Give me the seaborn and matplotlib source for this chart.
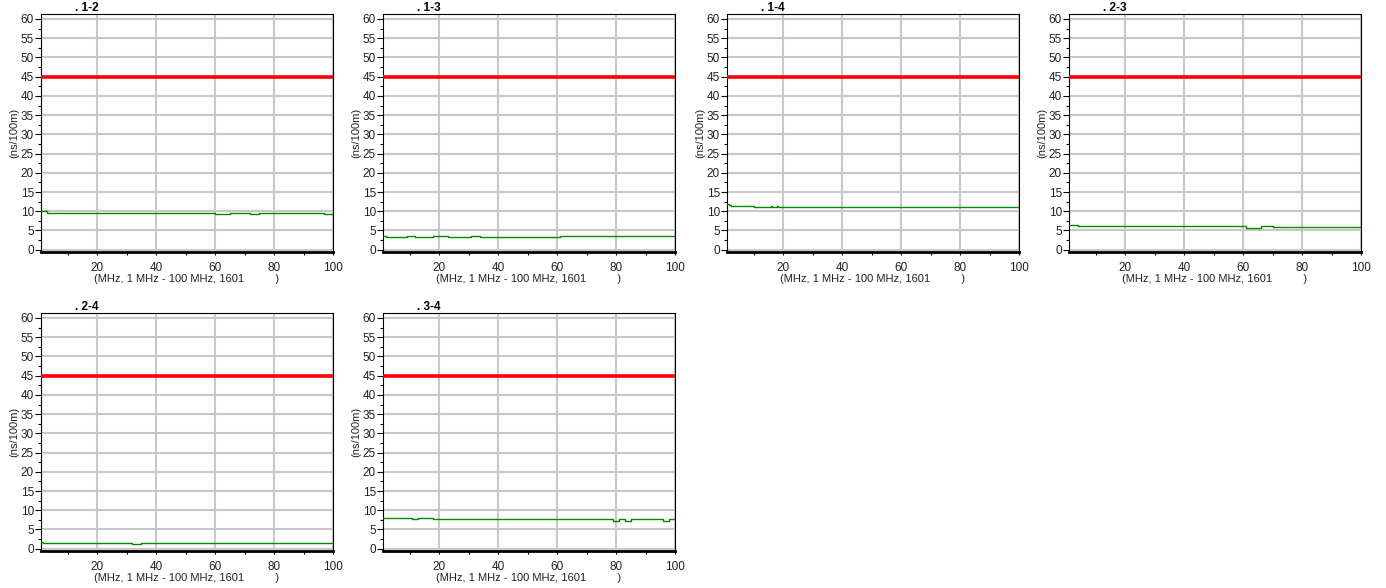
import matplotlib
matplotlib.use("Agg")
import matplotlib.pyplot as plt
import seaborn as sns
import pandas as pd

sns.set_style("white")
plt.rcParams["font.family"] = ["Liberation Sans", "DejaVu Sans"]
plt.rcParams["text.color"] = "black"
plt.rcParams["axes.labelcolor"] = "black"

# pair names and delay skew curves (breakpoints: MHz, ns/100m, drawn as steps)
pairs = [". 1-2", ". 1-3", ". 1-4", ". 2-3", ". 2-4", ". 3-4"]
freq_12 = [1, 3, 60, 65, 72, 75, 97, 100]
skew_12 = [10.0, 9.6, 9.2, 9.6, 9.2, 9.6, 9.2, 9.2]
freq_13 = [1, 2, 4, 9, 12, 18, 23, 31, 34, 41, 46, 51, 57, 61, 100]
skew_13 = [3.6, 3.4, 3.2, 3.5, 3.2, 3.5, 3.2, 3.5, 3.2, 3.4, 3.2, 3.4, 3.2, 3.5, 3.5]
freq_14 = [1, 1.8, 2.5, 10, 16, 16.3, 18, 18.3, 100]
skew_14 = [11.8, 11.5, 11.3, 11.0, 11.3, 11.0, 11.3, 11.0, 11.0]
freq_23 = [1, 4, 61, 66, 70, 100]
skew_23 = [6.4, 6.1, 5.7, 6.1, 5.8, 5.8]
freq_24 = [1, 1.6, 32, 35, 100]
skew_24 = [1.8, 1.5, 1.3, 1.5, 1.5]
freq_34 = [1, 2, 11, 13, 18, 79, 81, 83, 85, 96, 98, 100]
skew_34 = [8.1, 7.9, 7.6, 7.9, 7.6, 7.3, 7.6, 7.3, 7.6, 7.3, 7.6, 7.6]
limit = 45

curves = [(freq_12, skew_12), (freq_13, skew_13), (freq_14, skew_14),
          (freq_23, skew_23), (freq_24, skew_24), (freq_34, skew_34)]

W, H = 1386, 588
fig = plt.figure(figsize=(W / 100, H / 100), dpi=100)

lefts = [41, 383, 727, 1069]
aw = 292
rows = [(14, 252), (313, 551)]

for i, (name, (f, s)) in enumerate(zip(pairs, curves)):
    r, c = divmod(i, 4)
    top, bot = rows[r]
    ax = fig.add_axes([lefts[c] / W, 1 - bot / H, aw / W, (bot - top) / H])
    df = pd.DataFrame({"freq": f, "skew": s})
    ax.axhline(limit, color="#ff0000", lw=2.6, zorder=3)
    ax.step(df["freq"], df["skew"], where="post", color="#008a00", lw=1.0, zorder=4)
    ax.set_xlim(1, 100)
    ax.set_ylim(-0.6, 61.3)
    ax.set_xticks([20, 40, 60, 80, 100])
    ax.set_xticks(range(10, 100, 20), minor=True)
    ax.set_yticks(range(0, 61, 5))
    ax.set_yticks([v + 2.5 for v in range(0, 60, 5)], minor=True)
    ax.grid(True, which="major", color="#c8c8c8", lw=1.5, zorder=0)
    ax.tick_params(axis="y", which="both", direction="out", left=True,
                   labelsize=8.5, length=4, width=0.8, pad=1,
                   color="black", labelcolor="#222222")
    ax.tick_params(axis="y", which="minor", length=2)
    ax.tick_params(axis="x", which="both", direction="out", bottom=True,
                   labelsize=8.5, length=2.5, width=0.8, pad=5,
                   color="black", labelcolor="#222222")
    for sp in ax.spines.values():
        sp.set_color("black")
        sp.set_linewidth(0.8)
    ax.spines["bottom"].set_linewidth(2.0)
    ax.set_ylabel("(ns/100m)", fontsize=8, labelpad=1, color="#222222")
    ax.set_xlabel("(MHz, 1 MHz - 100 MHz, 1601          )", fontsize=8,
                  labelpad=0, color="#222222")
    ax.set_title(name, fontsize=8.5, fontweight="bold", loc="left",
                 x=0.115, pad=2)

fig.savefig("out.png", dpi=100)
